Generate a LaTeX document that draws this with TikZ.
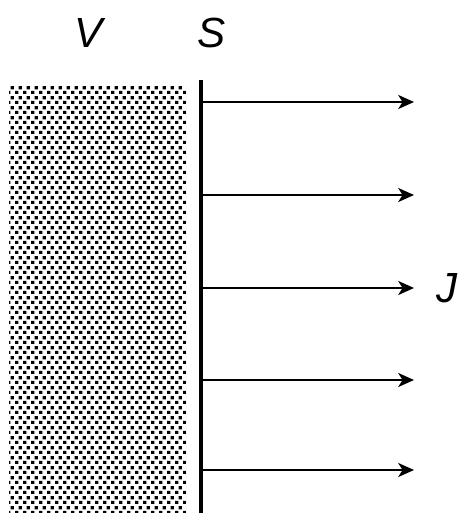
\documentclass[tikz,border=0pt]{standalone}
\usepackage{fontspec}
\setmainfont{Liberation Sans}
\usepackage{tikz}
\usetikzlibrary{arrows.meta, patterns}

% small black squares for the volume
\pgfdeclarepatternformonly{dotsquares}{\pgfpointorigin}{\pgfqpoint{4.3pt}{5.7pt}}{\pgfqpoint{4.3pt}{5.7pt}}{%
  \pgfpathrectangle{\pgfqpoint{0pt}{0pt}}{\pgfqpoint{2pt}{2pt}}%
  \pgfpathrectangle{\pgfqpoint{2.15pt}{2.85pt}}{\pgfqpoint{2pt}{2pt}}%
  \pgfusepath{fill}}

\begin{document}
\begin{tikzpicture}[x=0.02cm, y=-0.02cm,
        every node/.style={font=\fontsize{24}{28}\selectfont\itshape},
        wall/.style={line width=2pt},
        flux/.style={-{Stealth[length=9pt, width=8pt, inset=2.5pt]}, line width=1.3pt}]
      \useasboundingbox (0,0) rectangle (464,513);

      % volume
      \path[pattern=dotsquares] (9,86) rectangle (186,513);

      % surface
      \coordinate (stop) at (201,80);
      \coordinate (sbot) at (201,513);
      \draw[wall] (stop) -- (sbot);

      \node (V) at (89,33) {V};
      \node (S) at (212,33) {S};
      \node (J) at (447,288) {J};

      % flux arrows
      \foreach \y [count=\i] in {102,195,288,380,470} {
        \coordinate (a\i) at (201,\y);
        \coordinate (b\i) at (414,\y);
        \draw[flux] (a\i) -- (b\i);
      }
    \end{tikzpicture}
\end{document}
